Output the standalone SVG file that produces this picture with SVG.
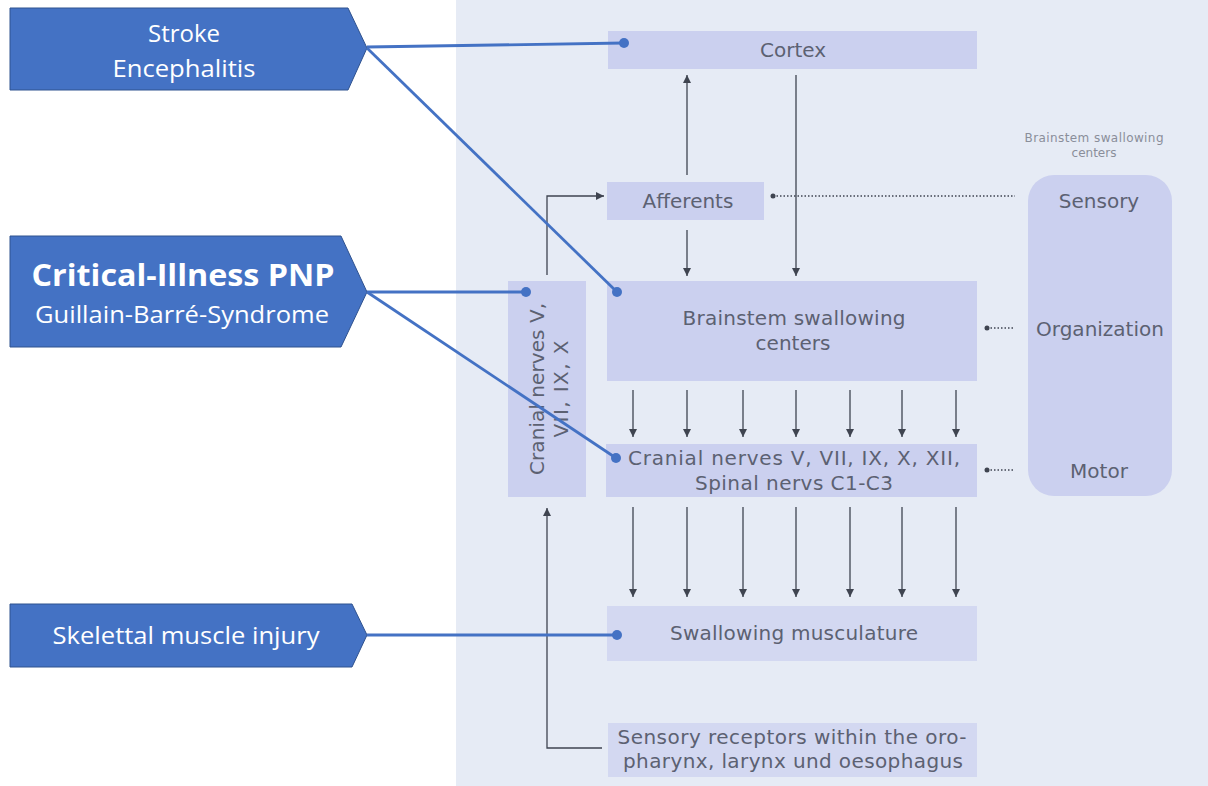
<svg xmlns="http://www.w3.org/2000/svg" width="1208" height="786" viewBox="0 0 1208 786">
<defs>
<marker id="ah" markerWidth="10" markerHeight="10" refX="8" refY="4" orient="auto" markerUnits="userSpaceOnUse">
<path d="M0,0 L8,4 L0,8 Z" fill="#3f4450"/>
</marker>
<marker id="dot" markerWidth="6" markerHeight="6" refX="3" refY="3" markerUnits="userSpaceOnUse">
<circle cx="3" cy="3" r="2.5" fill="#3f4450"/>
</marker>
<style>
.pent{fill:#4472c4;stroke:#2f528f;stroke-width:1}
.wt{fill:#ffffff;font-family:"Open Sans","Liberation Sans",sans-serif;text-anchor:middle}
.box{fill:#cbd0ef}
.box2{fill:#d3d8f1}
.gt{fill:#5c6172;font-family:"DejaVu Sans",Verdana,sans-serif;font-size:20px;text-anchor:middle}
.ar{stroke:#3f4450;stroke-width:1.3;fill:none;marker-end:url(#ah)}
.dl{stroke:#3f4450;stroke-width:1.5;stroke-dasharray:1.5 2;fill:none;marker-start:url(#dot)}
.bl{stroke:#4472c4;stroke-width:2.8;fill:none}
.bd{fill:#4472c4}
</style>
</defs>
<rect x="0" y="0" width="1208" height="786" fill="#ffffff"/>
<rect x="456" y="0" width="752" height="786" fill="#e6ebf5"/>

<g id="stroke-node">
<polygon class="pent" points="10,8 348,8 367,48 348,90 10,90"/>
<text class="wt" x="184" y="42" font-size="24">Stroke</text>
<text class="wt" x="184" y="77" font-size="24" textLength="143" lengthAdjust="spacingAndGlyphs">Encephalitis</text>
</g>
<g id="critical-node">
<polygon class="pent" points="10,236 341,236 367,292 341,347 10,347"/>
<text class="wt" x="183" y="286" font-size="31" font-weight="bold" textLength="303" lengthAdjust="spacingAndGlyphs">Critical-Illness PNP</text>
<text class="wt" x="182" y="323" font-size="24" textLength="294" lengthAdjust="spacingAndGlyphs">Guillain-Barré-Syndrome</text>
</g>
<g id="skeletal-node">
<polygon class="pent" points="10,604 352,604 367,635 352,667 10,667"/>
<text class="wt" x="186" y="644" font-size="24" textLength="267" lengthAdjust="spacingAndGlyphs">Skelettal muscle injury</text>
</g>

<g id="cortex">
<rect class="box" x="608" y="31" width="369" height="38"/>
<text class="gt" x="793" y="57">Cortex</text>
</g>
<g id="afferents">
<rect class="box" x="607" y="182" width="157" height="38"/>
<text class="gt" x="688" y="208">Afferents</text>
</g>
<g id="brainstem">
<rect class="box" x="607" y="281" width="370" height="100"/>
<text class="gt" x="794" y="325" textLength="223" lengthAdjust="spacing">Brainstem swallowing</text>
<text class="gt" x="793" y="350">centers</text>
</g>
<g id="cranial-vertical">
<rect class="box" x="508" y="281" width="78" height="216"/>
<g transform="translate(547,389) rotate(-90)">
<text class="gt" x="0" y="-3" textLength="172" lengthAdjust="spacing">Cranial nerves V,</text>
<text class="gt" x="0" y="21" textLength="97" lengthAdjust="spacing">VII, IX, X</text>
</g>
</g>
<g id="cranial-nerves">
<rect class="box" x="606" y="444" width="371" height="53"/>
<text class="gt" x="794" y="465" textLength="332" lengthAdjust="spacing">Cranial nerves V, VII, IX, X, XII,</text>
<text class="gt" x="794" y="490" textLength="198" lengthAdjust="spacing">Spinal nervs C1-C3</text>
</g>
<g id="musculature">
<rect class="box2" x="607" y="606" width="370" height="55"/>
<text class="gt" x="794" y="640" textLength="248" lengthAdjust="spacing">Swallowing musculature</text>
</g>
<g id="receptors">
<rect class="box2" x="608" y="723" width="369" height="54"/>
<text class="gt" x="792" y="744" textLength="349" lengthAdjust="spacing">Sensory receptors within the oro-</text>
<text class="gt" x="793" y="768" textLength="340" lengthAdjust="spacing">pharynx, larynx und oesophagus</text>
</g>
<g id="centers-panel">
<text x="1094" y="142" fill="#8a8e9a" font-family="DejaVu Sans,Verdana,sans-serif" font-size="12" text-anchor="middle" textLength="139" lengthAdjust="spacing">Brainstem swallowing</text>
<text x="1094" y="157" fill="#8a8e9a" font-family="DejaVu Sans,Verdana,sans-serif" font-size="12" text-anchor="middle">centers</text>
<rect class="box" x="1028" y="175" width="144" height="321" rx="26" ry="26"/>
<text class="gt" x="1099" y="208">Sensory</text>
<text class="gt" x="1100" y="336">Organization</text>
<text class="gt" x="1099" y="478">Motor</text>
</g>

<g id="connectors">
<line class="ar" x1="687" y1="175" x2="687" y2="75"/>
<line class="ar" x1="796" y1="75" x2="796" y2="276"/>
<line class="ar" x1="687" y1="230" x2="687" y2="276"/>
<polyline class="ar" points="547,275 547,196 604,196"/>
<line class="ar" x1="633" y1="390" x2="633" y2="437"/>
<line class="ar" x1="687" y1="390" x2="687" y2="437"/>
<line class="ar" x1="743" y1="390" x2="743" y2="437"/>
<line class="ar" x1="796" y1="390" x2="796" y2="437"/>
<line class="ar" x1="850" y1="390" x2="850" y2="437"/>
<line class="ar" x1="902" y1="390" x2="902" y2="437"/>
<line class="ar" x1="956" y1="390" x2="956" y2="437"/>
<line class="ar" x1="633" y1="507" x2="633" y2="597"/>
<line class="ar" x1="687" y1="507" x2="687" y2="597"/>
<line class="ar" x1="743" y1="507" x2="743" y2="597"/>
<line class="ar" x1="796" y1="507" x2="796" y2="597"/>
<line class="ar" x1="850" y1="507" x2="850" y2="597"/>
<line class="ar" x1="902" y1="507" x2="902" y2="597"/>
<line class="ar" x1="956" y1="507" x2="956" y2="597"/>
<polyline class="ar" points="602,748 547,748 547,508"/>
<line class="dl" x1="773" y1="196" x2="1015" y2="196"/>
<line class="dl" x1="987" y1="328" x2="1015" y2="328"/>
<line class="dl" x1="987" y1="470" x2="1015" y2="470"/>
<line class="bl" x1="367" y1="47" x2="624" y2="43"/>
<line class="bl" x1="367" y1="48" x2="617" y2="292"/>
<line class="bl" x1="367" y1="292" x2="526" y2="292"/>
<line class="bl" x1="367" y1="292" x2="616" y2="458"/>
<line class="bl" x1="367" y1="635" x2="617" y2="635"/>
<circle class="bd" cx="624" cy="43" r="5"/>
<circle class="bd" cx="617" cy="292" r="5"/>
<circle class="bd" cx="526" cy="292" r="5"/>
<circle class="bd" cx="616" cy="458" r="5"/>
<circle class="bd" cx="617" cy="635" r="5"/>
</g>
</svg>
